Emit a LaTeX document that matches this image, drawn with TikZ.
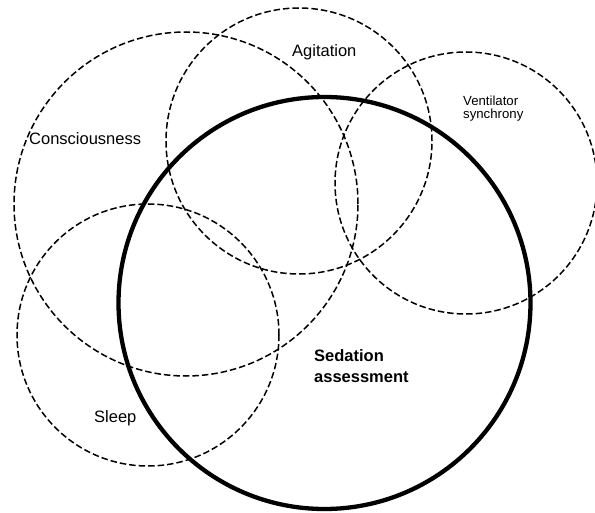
\documentclass[tikz,border=0pt]{standalone}
\usepackage{fontspec}
\setmainfont{Liberation Sans}
\begin{document}
\begin{tikzpicture}[x=1pt,y=-1pt,
  dashcircle/.style={draw=black,line width=1.5pt,dash pattern=on 6.5pt off 3pt},
  thickcircle/.style={draw=black,line width=4.3pt},
  lbl/.style={anchor=base west,inner sep=0pt,font=\fontsize{16.5}{20}\selectfont},
  smalllbl/.style={anchor=base west,inner sep=0pt,font=\fontsize{13.2}{13}\selectfont},
  boldlbl/.style={anchor=base west,inner sep=0pt,font=\fontsize{16.5}{20}\selectfont\bfseries}]
\path[use as bounding box,fill=white] (0,0) rectangle (595,513);
% dashed circles
\draw[dashcircle] (186,204) circle[radius=172pt];
\draw[dashcircle] (299,141) circle[radius=133pt];
\draw[dashcircle] (466,183) circle[radius=131pt];
\draw[dashcircle] (148,335) circle[radius=131pt];
% thick circle
\draw[thickcircle] (324.5,303) circle[radius=206pt];
% labels
\node[lbl] (consc) at (29,145) {Consciousness};
\node[lbl] (agit) at (292,57) {Agitation};
\node[smalllbl] (vent1) at (463,106) {Ventilator};
\node[smalllbl] (vent2) at (463,119) {synchrony};
\node[lbl] (sleep) at (94,422) {Sleep};
\node[boldlbl] (sed1) at (314,362) {Sedation};
\node[boldlbl] (sed2) at (314,382) {assessment};
\end{tikzpicture}
\end{document}
